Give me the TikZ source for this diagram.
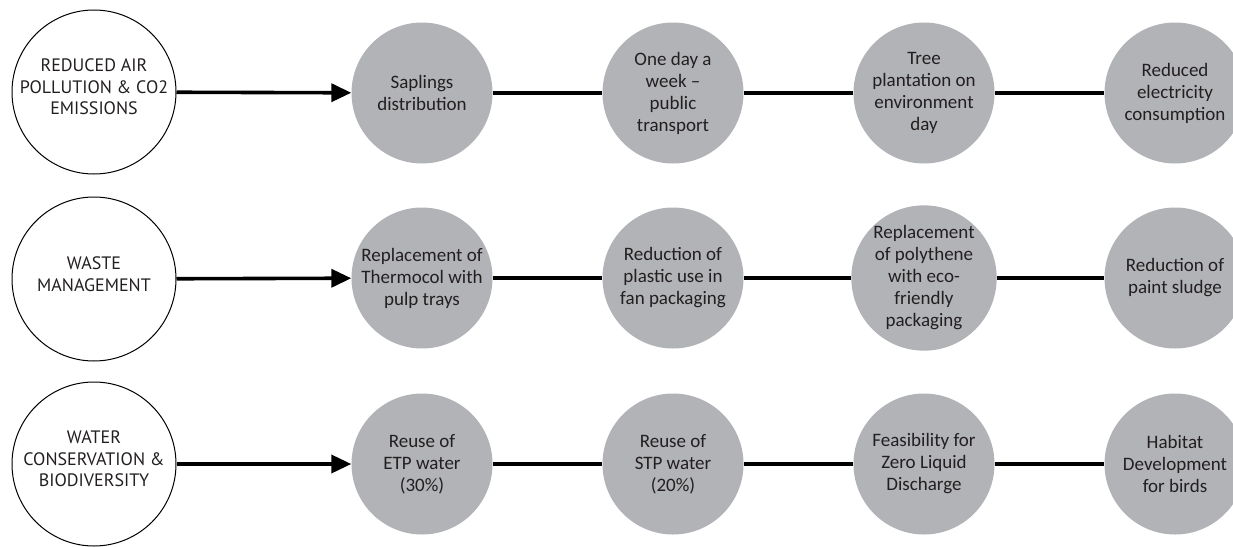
\documentclass[tikz,border=0pt]{standalone}
\usepackage{fontspec}
\setmainfont{Carlito}
\newfontfamily\themefont{PT Sans}
\usepackage{tikz}
\usetikzlibrary{arrows.meta}
\definecolor{actgray}{RGB}{177,179,182}
\definecolor{inktext}{RGB}{35,31,32}

\begin{document}
\begin{tikzpicture}[
    x=1pt, y=-1pt,
    font=\fontsize{19}{22}\selectfont,
    theme/.style={draw, circle, line width=1pt, minimum size=164pt, inner sep=0pt, label={[themetext]center:#1}},
    themetext/.style={align=center, inner sep=0pt, yshift=5pt, text=inktext, font=\themefont\fontsize{18}{21.5}\selectfont},
    act/.style={circle, fill=actgray, minimum size=141pt, inner sep=0pt, align=center, text=inktext},
    lead/.style={-{Triangle[length=20pt, width=18pt]}, line width=3.6pt},
    link/.style={line width=3.2pt}
]
\useasboundingbox (0,0) rectangle (1233,546);

% row 1: air
\node[theme={REDUCED AIR\\POLLUTION \& CO2\\EMISSIONS}] (air) at (94,92) {};
\node[act] (air1) at (422,93) {Saplings\\distribution};
\node[act] (air2) at (673,93) {One day a\\week --\\public\\transport};
\node[act] (air3) at (924,93) {Tree\\plantation on\\environment\\day};
\node[act] (air4) at (1175,93) {Reduced\\electricity\\consumption};

% row 2: waste
\node[theme={WASTE\\MANAGEMENT}] (waste) at (94,279) {};
\node[act] (waste1) at (422,278) {Replacement of\\Thermocol with\\pulp trays};
\node[act] (waste2) at (673,278) {Reduction of\\plastic use in\\fan packaging};
\node[act] (waste3) at (924,278) {Replacement\\of polythene\\with eco-\\friendly\\packaging};
\node[act] (waste4) at (1175,278) {Reduction of\\paint sludge};

% row 3: water
\node[theme={WATER\\CONSERVATION \&\\BIODIVERSITY}] (water) at (94,464) {};
\node[act] (water1) at (422,464) {Reuse of\\ETP water\\(30\%)};
\node[act] (water2) at (673,464) {Reuse of\\STP water\\(20\%)};
\node[act] (water3) at (924,464) {Feasibility for\\Zero Liquid\\Discharge};
\node[act] (water4) at (1175,464) {Habitat\\Development\\for birds};

\draw[lead] (air) -- (air1);
\draw[link] (air1) -- (air2);
\draw[link] (air2) -- (air3);
\draw[link] (air3) -- (air4);

\draw[lead] (waste) -- (waste1);
\draw[link] (waste1) -- (waste2);
\draw[link] (waste2) -- (waste3);
\draw[link] (waste3) -- (waste4);

\draw[lead] (water) -- (water1);
\draw[link] (water1) -- (water2);
\draw[link] (water2) -- (water3);
\draw[link] (water3) -- (water4);
\end{tikzpicture}
\end{document}
